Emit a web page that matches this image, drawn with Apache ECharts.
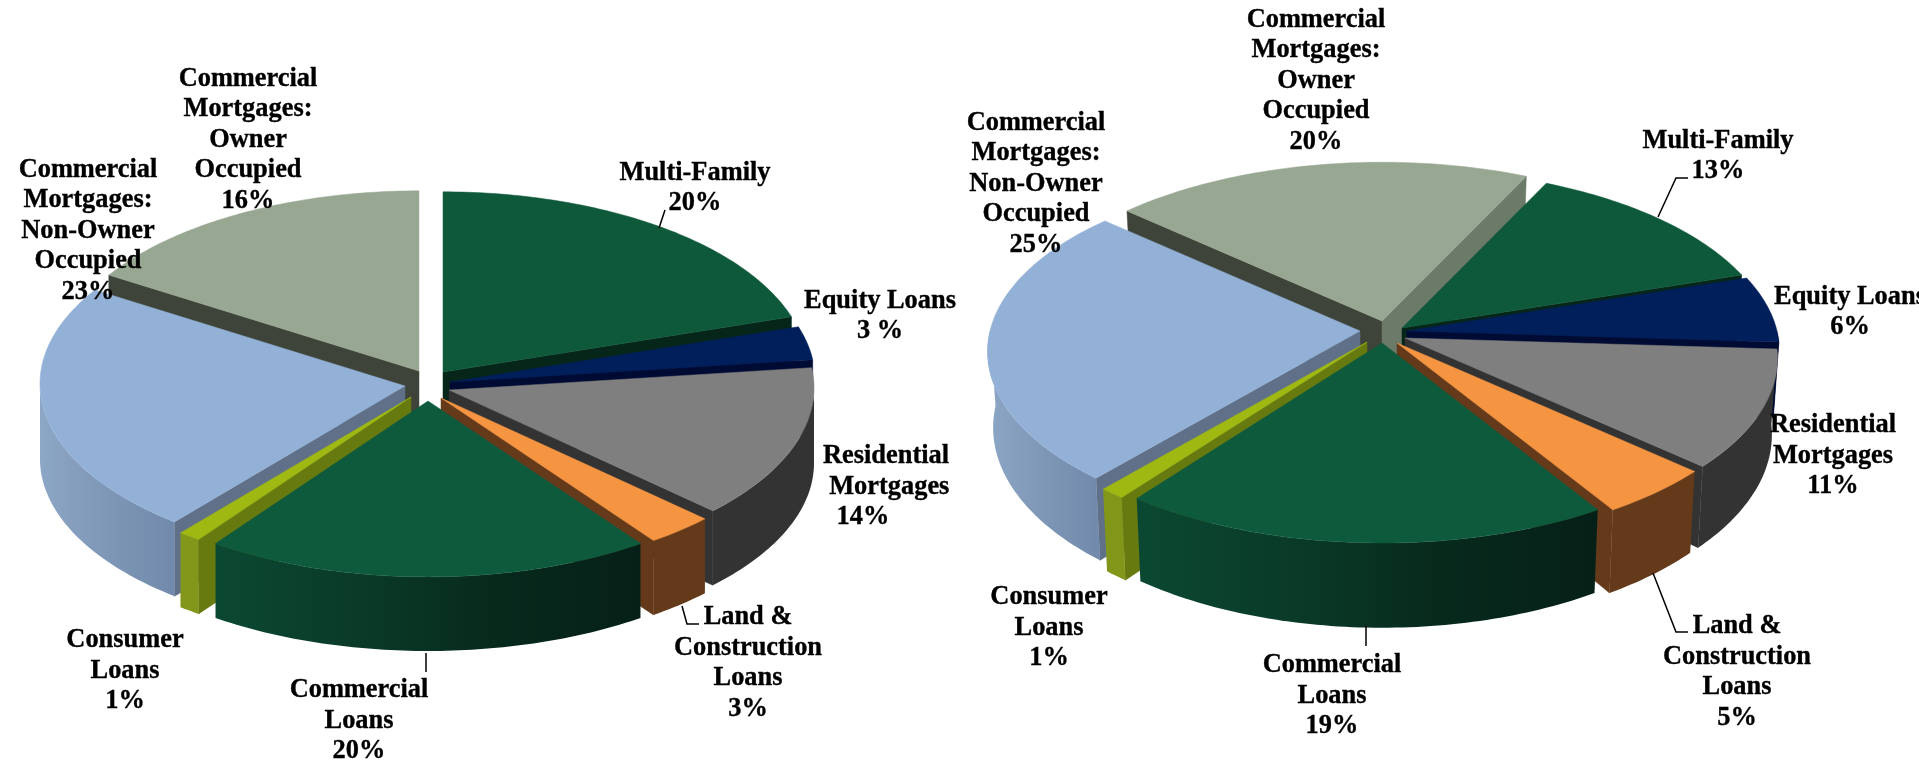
<!DOCTYPE html>
<html><head><meta charset="utf-8">
<script src="https://cdn.jsdelivr.net/npm/echarts@6/dist/echarts.min.js"></script>
<style>html,body{margin:0;padding:0;background:#fff;overflow:hidden}#c{width:1919px;height:760px}</style>
</head><body><div id="c"></div>
<script>
// ---- data ----
const categories = ['Multi-Family','Equity Loans','Residential Mortgages','Land & Construction Loans','Commercial Loans','Consumer Loans','Commercial Mortgages: Non-Owner Occupied','Commercial Mortgages: Owner Occupied'];
const leftValues  = [20, 3, 14, 3, 20, 1, 23, 16];
const rightValues = [12.9, 6, 10.7, 4.5, 19.1, 1, 25.4, 20.4];
const leftLabels = [
  'Multi-Family\n20%','Equity Loans\n3 %','Residential\n\u00a0Mortgages\n14%\u00a0\u00a0\u00a0\u00a0\u00a0\u00a0\u00a0',
  'Land &\nConstruction\nLoans\n3%','Commercial\nLoans\n20%','Consumer\nLoans\n1%',
  'Commercial\nMortgages:\nNon-Owner\nOccupied\n23%','Commercial\nMortgages:\nOwner\nOccupied\n16%'];
const rightLabels = [
  'Multi-Family\n13%','Equity Loans\n6%','Residential\nMortgages\n11%',
  'Land &\nConstruction\nLoans\n5%','Commercial\nLoans\n19%','Consumer\nLoans\n1%',
  'Commercial\nMortgages:\nNon-Owner\nOccupied\n25%','Commercial\nMortgages:\nOwner\nOccupied\n20%'];

// ---- styles ----
const topColors   = ['#0F593B','#001F5B','#7F7F7F','#F59542','#0E5A3D','#9FB812','#93B1D6','#98A792'];
const endFace     = ['#06261A','#000B33','#333333','#653A1B','#06261A','#677A0F','#5F7088','#6C7A69'];
const startFace   = ['#06261A','#000B33','#333333','#653A1B','#06261A','#677A0F','#5F7088','#3E4439'];
const wallStops   = [
  ['#0A3A27','#06241A'],['#000B33','#000B33'],['#333333','#333333'],['#653A1B','#653A1B'],
  ['#0B4832','#0A3B28','#07291C','#062018'],['#82961A','#82961A'],['#8CA6C6','#7F97B6','#7189AB'],['#6C7A69','#6C7A69']];

// ---- layout ----
const leftPie = {
  rx:365, ry:178, depth:75, persp:-0.012, shrink:0, start:0,
  apex:[[443,372],[450,382],[449,390],[441,398],[428,401],[411,397],[405,386],[419,371]],
  labels:[[695,188],[880,316],[886,487],[748,663],[359,721],[125,671],[88,231],[248,140]],
  leaders:[[[659,228],[665,210]],[[682,606],[687,624],[699,624]],[[426,653],[426,672]]],
  text:leftLabels, values:leftValues
};
const rightPie = {
  rx:370, ry:177, depth:75, persp:0.115, shrink:0.015, start:25.5,
  apex:[[1402,328],[1407,331],[1405,338],[1397,343],[1382,343],[1367,342],[1360,331],[1382,321]],
  labels:[[1718,156],[1850,312],[1833,456],[1737,672],[1332,696],[1049,628],[1036,184],[1316,81]],
  leaders:[[[1658,217],[1676,178],[1688,178]],[[1653,573],[1676,632],[1688,632]],[[1366,626],[1366,646]]],
  text:rightLabels, values:rightValues
};
const FONT = {fontFamily:'"Liberation Serif","Times New Roman",serif',fontWeight:'bold',fontSize:26.4,lineHeight:30.6,fill:'#000',stroke:'#000',lineWidth:.35,align:'center',verticalAlign:'middle'};

function rad(d){return d*Math.PI/180;}
function project(pie,deg){
  const u=Math.sin(rad(deg)), v=-Math.cos(rad(deg));
  const s=1/(1-pie.persp*v);
  return {x:pie.rx*u*s, y:pie.ry*v*s, s};
}
function topPt(pie,a,deg){const p=project(pie,deg);return [a[0]+p.x,a[1]+p.y];}
function botPt(pie,a,deg){const p=project(pie,deg);return [a[0]+p.x*(1-pie.shrink),a[1]+p.y+pie.depth*p.s];}
function arcPts(fn,pie,a,d1,d2){const out=[];const n=Math.max(2,Math.ceil(Math.abs(d2-d1)));for(let i=0;i<=n;i++)out.push(fn(pie,a,d1+(d2-d1)*i/n));return out;}

function sliceAngles(values,start){
  const total=values.reduce((s,v)=>s+v,0);let cur=start;
  return values.map(v=>{const a=cur;cur+=v/total*360;return [a,cur];});
}
function render(pie){
  const angles=sliceAngles(pie.values,pie.start);
  const order=angles.map((a,i)=>[-Math.cos(rad((a[0]+a[1])/2)),i]).sort((p,q)=>p[0]-q[0]).map(p=>p[1]);
  return function(params,api){
    const i=api.value(0);
    const [d1,d2]=angles[i];
    const a=pie.apex[i];
    const base=(order.indexOf(i)+1)*10;
    const children=[];
    const aBot=[a[0],a[1]+pie.depth];
    if(Math.sin(rad(d1))<-1e-6){
      children.push({type:'polygon',z2:base,shape:{points:[a,topPt(pie,a,d1),botPt(pie,a,d1),aBot]},style:{fill:startFace[i],stroke:startFace[i],lineWidth:.5}});
    }
    if(Math.sin(rad(d2))>1e-6){
      children.push({type:'polygon',z2:base+1,shape:{points:[a,topPt(pie,a,d2),botPt(pie,a,d2),aBot]},style:{fill:endFace[i],stroke:endFace[i],lineWidth:.5}});
    }
    let w1=d1,w2=d2;
    if(w2>360){w1-=360;w2-=360;}
    w1=Math.max(w1,90);w2=Math.min(w2,270);
    if(w2>w1){
      const t=arcPts(topPt,pie,a,w1,w2), b=arcPts(botPt,pie,a,w1,w2).reverse();
      const pts=t.concat(b);
      const xs=pts.map(p=>p[0]);const x0=Math.min(...xs),x1=Math.max(...xs);
      const st=wallStops[i];
      const grad=new echarts.graphic.LinearGradient(x0,0,x1,0,st.map((c,k)=>({offset:k/(st.length-1||1),color:c})),true);
      children.push({type:'polygon',z2:base+2,shape:{points:pts},style:{fill:grad}});
    }
    children.push({type:'polygon',z2:base+3,shape:{points:[a].concat(arcPts(topPt,pie,a,d1,d2))},style:{fill:topColors[i],stroke:topColors[i],lineWidth:.5}});
    const l=pie.labels[i];
    children.push({type:'text',z2:1000,style:Object.assign({text:pie.text[i],x:l[0],y:l[1]},FONT)});
    return {type:'group',children};
  };
}
function leaderSeries(pie){
  return {type:'custom',coordinateSystem:'none',silent:true,z:5,data:pie.leaders.map((_,i)=>[i]),
    renderItem(params,api){
      return {type:'polyline',shape:{points:pie.leaders[api.value(0)]},style:{stroke:'#000',lineWidth:1.5,fill:null}};
    }};
}
function pieSeries(pie){
  return {type:'custom',coordinateSystem:'none',silent:true,z:2,
    data:pie.values.map((v,i)=>[i,v,categories[i]]),renderItem:render(pie)};
}
const chart=echarts.init(document.getElementById('c'),null,{renderer:'canvas'});
chart.setOption({animation:false,backgroundColor:'#fff',tooltip:{show:false},
  series:[pieSeries(leftPie),leaderSeries(leftPie),pieSeries(rightPie),leaderSeries(rightPie)]});
</script></body></html>
